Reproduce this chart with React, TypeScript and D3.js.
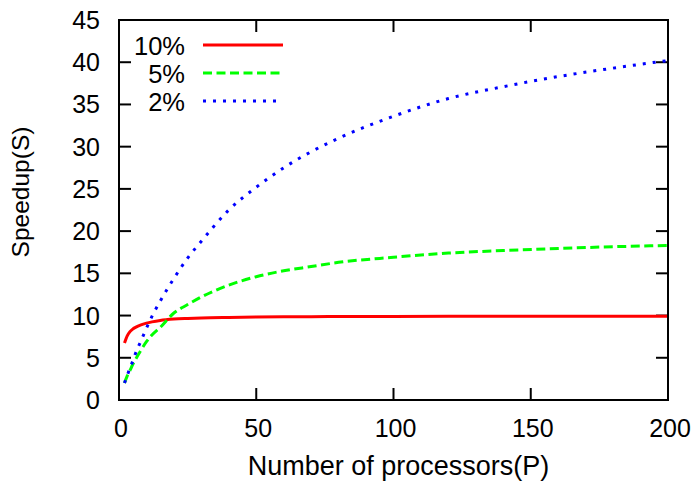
import * as d3 from "d3";
import { useEffect, useRef } from "react";

// number of processors P
const procs = [2, 3, 4, 5, 6, 8, 10, 12, 15, 20, 25, 30, 40, 50, 60, 70, 80, 100, 120, 140, 160, 180, 200];
// speedup for each serial fraction
const s10 = [6.75, 7.6, 8.1, 8.4, 8.6, 8.9, 9.1, 9.25, 9.42, 9.58, 9.66, 9.72, 9.78, 9.82, 9.85, 9.87, 9.88, 9.9, 9.91, 9.92, 9.92, 9.93, 9.93];
const s5 = [2.0, 2.85, 3.5, 4.2, 4.8, 5.9, 6.9, 7.7, 8.6, 10.3, 11.3, 12.2, 13.6, 14.6, 15.3, 15.8, 16.3, 16.9, 17.4, 17.7, 17.95, 18.15, 18.3];
const s2 = [2.0, 2.9, 3.8, 4.6, 5.5, 7.0, 8.5, 9.9, 11.7, 14.4, 16.8, 18.8, 22.5, 25.2, 27.5, 29.4, 31.0, 33.6, 35.7, 37.1, 38.3, 39.3, 40.2];

const labels = ["10%", "5%", "2%"];
const xTicks = [0, 50, 100, 150, 200];
const yTicks = [0, 5, 10, 15, 20, 25, 30, 35, 40, 45];

function App() {
  const ref = useRef<SVGSVGElement>(null);

  useEffect(() => {
    const W = 695,
      H = 486;
    const margin = { top: 20, right: 27, bottom: 86, left: 119 },
      width = W - margin.left - margin.right,
      height = H - margin.top - margin.bottom;

    const root = d3.select(ref.current);
    root.selectAll("*").remove();
    const svg = root.append("g").attr("transform", `translate(${margin.left},${margin.top})`);

    const x = d3.scaleLinear().domain([0, 200]).range([0, width]);
    const y = d3.scaleLinear().domain([0, 45]).range([height, 0]);

    const font = "'Liberation Sans', Arial, Helvetica, sans-serif";
    const tickLen = 12;

    // ticks on all four sides, pointing inwards
    const tickG = svg.append("g").attr("stroke", "#000").attr("stroke-width", 2);
    xTicks.forEach((t) => {
      tickG.append("line").attr("x1", x(t)).attr("x2", x(t)).attr("y1", height).attr("y2", height - tickLen);
      tickG.append("line").attr("x1", x(t)).attr("x2", x(t)).attr("y1", 0).attr("y2", tickLen);
    });
    yTicks.forEach((t) => {
      tickG.append("line").attr("x1", 0).attr("x2", tickLen).attr("y1", y(t)).attr("y2", y(t));
      tickG.append("line").attr("x1", width).attr("x2", width - tickLen).attr("y1", y(t)).attr("y2", y(t));
    });

    svg
      .append("g")
      .selectAll("text")
      .data(xTicks)
      .join("text")
      .attr("x", (d) => x(d) + 2)
      .attr("y", height + 37)
      .attr("text-anchor", "middle")
      .style("font-family", font)
      .style("font-size", "25px")
      .text((d) => d);

    svg
      .append("g")
      .selectAll("text")
      .data(yTicks)
      .join("text")
      .attr("x", -19)
      .attr("y", (d) => y(d) + 9)
      .attr("text-anchor", "end")
      .style("font-family", font)
      .style("font-size", "25px")
      .text((d) => d);

    svg
      .append("text")
      .attr("x", width / 2 + 5)
      .attr("y", height + 75)
      .attr("text-anchor", "middle")
      .style("font-family", font)
      .style("font-size", "27px")
      .text("Number of processors(P)");

    svg
      .append("text")
      .attr("transform", `translate(${-90},${172}) rotate(-90)`)
      .attr("text-anchor", "middle")
      .style("font-family", font)
      .style("font-size", "24.5px")
      .text("Speedup(S)");

    const series = [
      { name: labels[0], values: s10, color: "#ff0000", dash: null },
      { name: labels[1], values: s5, color: "#00ff00", dash: "9,4.5" },
      { name: labels[2], values: s2, color: "#0000ff", dash: "3,7" },
    ];

    const line = d3
      .line<number>()
      .x((_, i) => x(procs[i]))
      .y((d) => y(d))
      .curve(d3.curveMonotoneX);

    series.forEach((s) => {
      svg
        .append("path")
        .attr("d", line(s.values))
        .attr("fill", "none")
        .attr("stroke", s.color)
        .attr("stroke-width", 3)
        .attr("stroke-dasharray", s.dash);
    });

    // legend
    const legend = svg.append("g");
    series.forEach((s, i) => {
      const ly = 25 + i * 28;
      legend
        .append("text")
        .attr("x", 66)
        .attr("y", ly + 10)
        .attr("text-anchor", "end")
        .style("font-family", font)
        .style("font-size", "25.5px")
        .text(s.name);
      legend
        .append("line")
        .attr("x1", 84)
        .attr("x2", 164)
        .attr("y1", ly)
        .attr("y2", ly)
        .attr("stroke", s.color)
        .attr("stroke-width", 3)
        .attr("stroke-dasharray", s.dash);
    });

    svg
      .append("rect")
      .attr("width", width)
      .attr("height", height)
      .attr("fill", "none")
      .attr("stroke", "#000")
      .attr("stroke-width", 2);
  }, []);

  return (
    <svg
      ref={ref}
      width={695}
      height={486}
      style={{ position: "absolute", left: 0, top: 0, background: "#fff" }}
    />
  );
}

export default App;
